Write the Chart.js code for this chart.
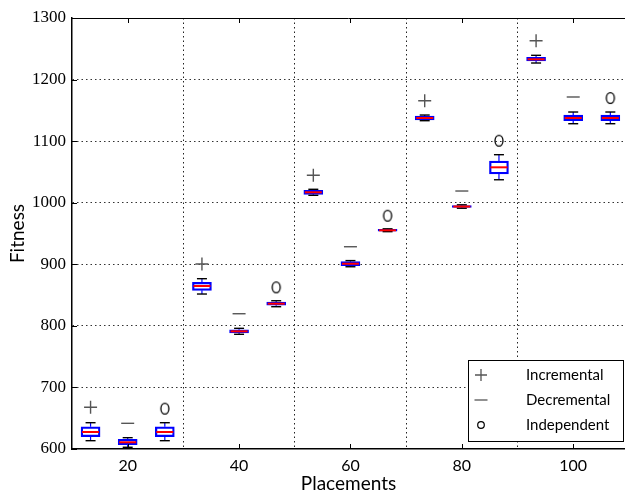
<!DOCTYPE html>
<html><head><meta charset="utf-8">
<script src="https://cdn.jsdelivr.net/npm/chart.js@4.4.1/dist/chart.umd.min.js"></script>
<style>html,body{margin:0;padding:0;background:#fff}</style>
</head><body>
<canvas id="c" width="625" height="495" style="width:625px;height:495px;display:block"></canvas>
<script>
// ---- data ----
const placements = [20, 40, 60, 80, 100];
const seriesNames = ['Incremental', 'Decremental', 'Independent'];

const incLow  = [613.5, 851.7, 1012.0, 1133.2, 1226.9];
const incQ1   = [620.0, 857.7, 1013.6, 1134.3, 1230.1];
const incMed  = [627.6, 864.7, 1016.9, 1137.6, 1232.9];
const incQ3   = [636.2, 870.7, 1020.1, 1140.8, 1236.1];
const incHigh = [642.7, 876.6, 1021.8, 1142.4, 1239.4];
const incMark = [667.7, 900.4, 1044.5, 1165.6, 1263.0];

const decLow  = [602.8, 786.3, 896.0, 991.0, 1128.3];
const decQ1   = [607.0, 788.4, 897.7, 992.3, 1133.2];
const decMed  = [610.9, 791.1, 900.9, 993.8, 1137.6];
const decQ3   = [615.8, 793.7, 904.2, 995.3, 1142.4];
const decHigh = [618.4, 796.0, 906.0, 996.6, 1147.3];
const decMark = [641.7, 819.7, 928.5, 1019.0, 1171.7];

const indLow  = [613.5, 831.1, 953.0, 1037.3, 1128.3];
const indQ1   = [620.0, 833.4, 953.8, 1046.6, 1133.2];
const indMed  = [627.6, 836.0, 955.2, 1057.5, 1137.6];
const indQ3   = [636.2, 838.7, 956.6, 1067.7, 1142.4];
const indHigh = [642.7, 840.8, 957.6, 1078.0, 1147.3];
const indMark = [665.5, 862.6, 978.9, 1100.7, 1170.0];

const yTicks = [600, 700, 800, 900, 1000, 1100, 1200, 1300];
const xTickLabels = [20, 40, 60, 80, 100];
const xSeparators = [30, 50, 70, 90];

// ---- styling / layout ----
const groupOffset = [-20 / 3, 0, 20 / 3];
const stats = [
  {low: incLow, q1: incQ1, med: incMed, q3: incQ3, high: incHigh, mark: incMark},
  {low: decLow, q1: decQ1, med: decMed, q3: decQ3, high: decHigh, mark: decMark},
  {low: indLow, q1: indQ1, med: indMed, q3: indQ3, high: indHigh, mark: indMark}
];

function ellipseStyle() {
  const cv = document.createElement('canvas');
  cv.width = 12; cv.height = 14;
  const g = cv.getContext('2d');
  g.strokeStyle = '#000'; g.lineWidth = 1.3;
  g.beginPath(); g.ellipse(6, 7, 4, 5.4, 0, 0, Math.PI * 2); g.stroke();
  return cv;
}
const markerStyles = [
  {pointStyle: 'cross', radius: 6.5, borderColor: '#555', borderWidth: 1.4},
  {pointStyle: 'line', radius: 6.5, borderColor: '#555', borderWidth: 1.4},
  {pointStyle: ellipseStyle(), radius: 6, borderColor: '#000', borderWidth: 1.3}
];
const legendMarkerStyles = [
  {pointStyle: 'cross', radius: 6, borderColor: '#555', borderWidth: 1.3},
  {pointStyle: 'line', radius: 6.5, borderColor: '#555', borderWidth: 1.3},
  {pointStyle: 'circle', radius: 3.3, borderColor: '#000', borderWidth: 1.2}
];

const datasets = [];
stats.forEach((st, s) => {
  const pos = placements.map(p => p + groupOffset[s]);
  const whisk = [];
  pos.forEach((x, i) => {
    whisk.push({x, y: st.q3[i]}, {x, y: st.high[i]}, {x, y: null},
               {x, y: st.q1[i]}, {x, y: st.low[i]}, {x, y: null});
  });
  datasets.push({
    type: 'line', label: seriesNames[s] + ' whiskers', data: whisk,
    borderColor: '#0000ff', borderWidth: 1.2, pointRadius: 0, spanGaps: false, order: 5
  });
  datasets.push({
    type: 'bar', label: seriesNames[s] + ' box',
    data: pos.map((x, i) => ({x, y: [st.q1[i], st.q3[i]]})),
    backgroundColor: 'rgba(255,255,255,0)', borderColor: '#0000ff', borderWidth: 1.6,
    borderSkipped: false, barThickness: 19, grouped: false, order: 4
  });
  datasets.push({
    type: 'scatter', label: seriesNames[s] + ' caps',
    data: pos.flatMap((x, i) => [{x, y: st.high[i]}, {x, y: st.low[i]}]),
    pointStyle: 'line', pointRadius: 5, borderColor: '#000', pointBorderColor: '#000', borderWidth: 1.4, order: 3
  });
  datasets.push({
    type: 'scatter', label: seriesNames[s] + ' median',
    data: pos.map((x, i) => ({x, y: st.med[i]})),
    pointStyle: 'line', pointRadius: 8.5, borderColor: '#ff0000', pointBorderColor: '#ff0000', borderWidth: 2, order: 2
  });
  const ms = markerStyles[s];
  datasets.push({
    type: 'scatter', label: seriesNames[s],
    data: pos.map((x, i) => ({x, y: st.mark[i]})),
    pointStyle: ms.pointStyle, pointRadius: ms.radius, borderColor: ms.borderColor,
    pointBorderColor: ms.borderColor, borderWidth: ms.borderWidth, backgroundColor: 'rgba(0,0,0,0)', order: 1
  });
});

const framePlugin = {
  id: 'frame',
  afterDraw(chart) {
    const {ctx, chartArea: a, scales: {x, y}} = chart;
    ctx.save();
    ctx.strokeStyle = '#000'; ctx.lineWidth = 1;
    ctx.beginPath(); ctx.moveTo(a.left, a.top + 0.5); ctx.lineTo(a.right, a.top + 0.5); ctx.stroke();
    // inward tick marks
    ctx.beginPath();
    yTicks.forEach(v => { const py = Math.round(y.getPixelForValue(v)) + 0.5; ctx.moveTo(a.left, py); ctx.lineTo(a.left + 5, py); });
    xTickLabels.forEach(v => { const px = Math.round(x.getPixelForValue(v)) + 0.5;
      ctx.moveTo(px, a.bottom); ctx.lineTo(px, a.bottom - 5); ctx.moveTo(px, a.top); ctx.lineTo(px, a.top + 5); });
    ctx.stroke();
    // legend
    const lw = 155, lh = 81;
    const lx = a.right - lw - 2, ly = a.bottom - lh - 8;
    ctx.fillStyle = '#fff'; ctx.fillRect(lx, ly, lw, lh);
    ctx.strokeStyle = '#000'; ctx.lineWidth = 1;
    ctx.strokeRect(Math.round(lx) + 0.5, Math.round(ly) + 0.5, lw, lh);
    ctx.textBaseline = 'middle'; ctx.textAlign = 'left';
    seriesNames.forEach((name, i) => {
      const ry = ly + 15 + i * 25;
      const st = legendMarkerStyles[i];
      ctx.save();
      ctx.strokeStyle = st.borderColor; ctx.lineWidth = st.borderWidth; ctx.fillStyle = 'rgba(0,0,0,0)';
      Chart.helpers.drawPoint(ctx, st, lx + 13, ry);
      ctx.restore();
      ctx.font = '15px Lato'; ctx.fillStyle = '#000';
      ctx.fillText(name, lx + 58, ry);
    });
    ctx.restore();
  }
};

new Chart(document.getElementById('c'), {
  type: 'scatter',
  data: {datasets},
  options: {
    responsive: false, animation: false,
    layout: {autoPadding: false, padding: {top: 18, right: 0, left: 0, bottom: 0}},
    plugins: {legend: {display: false}, tooltip: {enabled: false}},
    scales: {
      x: {
        type: 'linear', min: 10, max: 109.3, offset: false,
        afterBuildTicks: sc => { sc.ticks = xTickLabels.concat(xSeparators).sort((a, b) => a - b).map(v => ({value: v})); },
        afterFit: sc => { sc.height = 46; sc.paddingRight = 0; sc.paddingLeft = 0; },
        ticks: {
          autoSkip: false, maxRotation: 0, padding: 7, color: '#000',
          font: {family: 'Lato', size: 16},
          callback: v => (xTickLabels.includes(v) ? String(v) : '')
        },
        grid: {
          offset: false, drawTicks: false, lineWidth: 1,
          color: c => (c.tick && xSeparators.includes(c.tick.value) ? '#222' : 'rgba(0,0,0,0)')
        },
        border: {display: true, color: '#000', width: 1.5, dash: [1.5, 3]},
        title: {display: true, text: 'Placements', color: '#000', font: {family: 'Lato', size: 19}, padding: {top: 0, bottom: 0}}
      },
      y: {
        type: 'linear', min: 600, max: 1300,
        afterBuildTicks: sc => { sc.ticks = yTicks.map(v => ({value: v})); },
        afterFit: sc => { sc.width = 72; },
        ticks: {padding: 6, color: '#000', font: {family: "'Liberation Serif', 'DejaVu Serif', serif", size: 17},
                callback: v => String(v)},
        grid: {
          offset: false, drawTicks: false, lineWidth: 1,
          color: c => (c.tick && c.tick.value > 600 && c.tick.value < 1300 ? '#333' : 'rgba(0,0,0,0)')
        },
        border: {display: true, color: '#000', width: 1.5, dash: [1.5, 3]},
        title: {display: true, text: 'Fitness', color: '#000', font: {family: 'Lato', size: 19}, padding: {top: 6, bottom: 0}}
      }
    }
  },
  plugins: [framePlugin]
});
</script>
</body></html>
